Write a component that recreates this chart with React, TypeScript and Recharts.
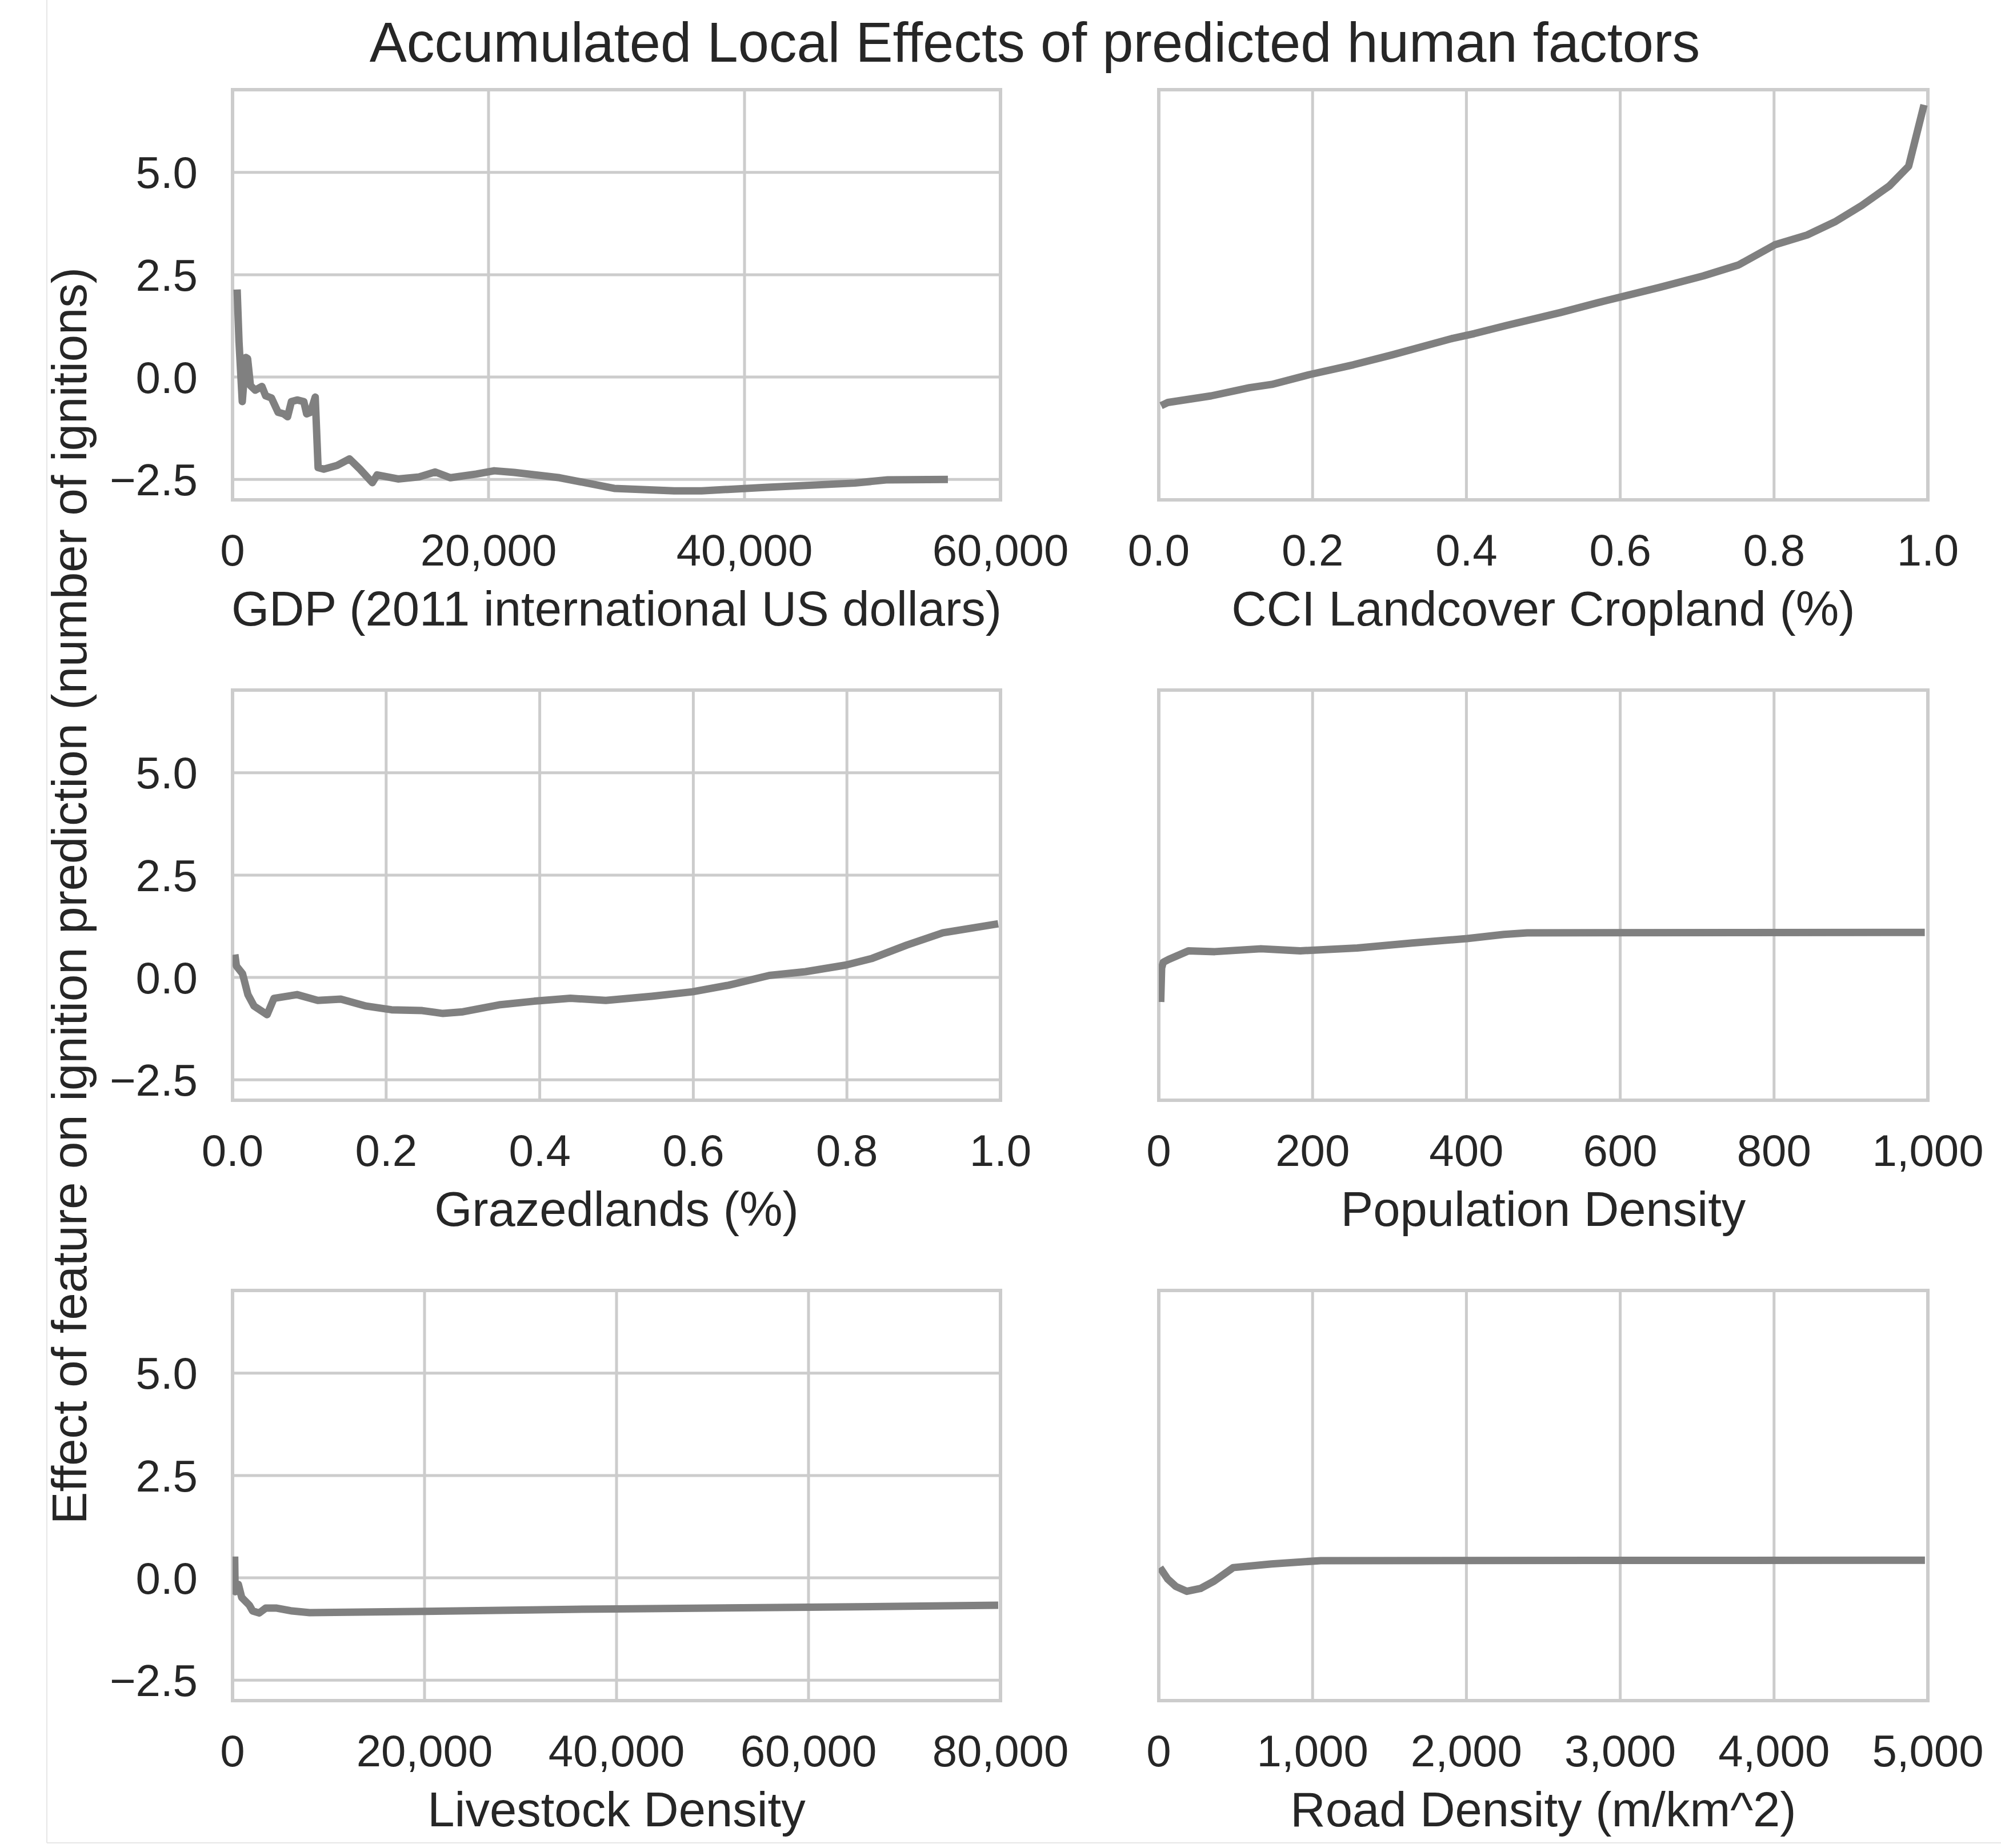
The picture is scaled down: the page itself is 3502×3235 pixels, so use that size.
import React from "react";
import {
  CartesianGrid,
  Line,
  LineChart,
  ReferenceArea,
  XAxis,
  YAxis,
} from "recharts";

// ALE curves (x in feature units, y in ignitions)
const gdpX = [357, 505, 759, 1030, 1175, 1398, 1772, 2291, 2589, 3036, 3557, 4004, 4300, 4598, 5044, 5567, 5790, 6088, 6460, 6683, 7130, 8170, 9138, 9955, 10923, 11294, 12932, 14567, 15833, 17022, 19030, 20445, 22008, 25553, 29820, 34507, 36650, 41360, 48620, 51185, 55890];
const gdpY = [2.14, 0.86, -0.6, 0.48, 0.45, -0.21, -0.32, -0.23, -0.46, -0.51, -0.86, -0.9, -0.97, -0.6, -0.56, -0.6, -0.9, -0.86, -0.49, -2.21, -2.25, -2.16, -2.0, -2.25, -2.58, -2.39, -2.49, -2.44, -2.32, -2.46, -2.37, -2.29, -2.33, -2.46, -2.72, -2.78, -2.78, -2.7, -2.59, -2.51, -2.5];

const cciX = [0.003, 0.012, 0.068, 0.118, 0.147, 0.196, 0.253, 0.303, 0.381, 0.41, 0.452, 0.523, 0.58, 0.651, 0.708, 0.754, 0.801, 0.843, 0.879, 0.914, 0.95, 0.975, 0.995];
const cciY = [-0.7, -0.62, -0.46, -0.26, -0.18, 0.06, 0.3, 0.54, 0.94, 1.06, 1.26, 1.58, 1.86, 2.19, 2.47, 2.74, 3.23, 3.47, 3.79, 4.19, 4.67, 5.15, 6.65];

const grazedX = [0.003, 0.005, 0.013, 0.02, 0.028, 0.045, 0.054, 0.084, 0.111, 0.141, 0.174, 0.207, 0.247, 0.274, 0.3, 0.347, 0.393, 0.44, 0.486, 0.546, 0.599, 0.646, 0.699, 0.746, 0.798, 0.832, 0.878, 0.925, 0.997];
const grazedY = [0.56, 0.28, 0.09, -0.42, -0.7, -0.91, -0.51, -0.42, -0.56, -0.53, -0.7, -0.79, -0.81, -0.88, -0.84, -0.67, -0.58, -0.51, -0.56, -0.46, -0.35, -0.19, 0.05, 0.14, 0.3, 0.46, 0.79, 1.09, 1.31];

const popX = [2.5, 3.7, 5.8, 12.9, 21.5, 38.6, 72.8, 132.8, 184, 258, 329.6, 400.9, 448.7, 479, 996];
const popY = [-0.6, 0.23, 0.37, 0.44, 0.51, 0.65, 0.63, 0.7, 0.65, 0.72, 0.84, 0.95, 1.05, 1.09, 1.1];

const livestockX = [220, 268, 607, 952, 1750, 2089, 2774, 3458, 4601, 6196, 8024, 20000, 35345, 40000, 60000, 79760];
const livestockY = [0.52, -0.34, -0.16, -0.48, -0.67, -0.81, -0.86, -0.74, -0.74, -0.81, -0.85, -0.82, -0.77, -0.76, -0.72, -0.67];

const roadX = [8, 58, 111, 182, 271, 360, 484, 733, 1053, 4981];
const roadY = [0.25, -0.03, -0.21, -0.33, -0.26, -0.08, 0.25, 0.34, 0.42, 0.43];

const yTicks = [-2.5, 0, 2.5, 5];
const gdpTicks = [0, 20000, 40000, 60000];
const fracTicks = [0, 0.2, 0.4, 0.6, 0.8, 1];
const popTicks = [0, 200, 400, 600, 800, 1000];
const livestockTicks = [0, 20000, 40000, 60000, 80000];
const roadTicks = [0, 1000, 2000, 3000, 4000, 5000];

const Y_DOMAIN: [number, number] = [-3, 7.02];
const INK = "#262626";
const GRID = "#cccccc";
const LINE = "#808080";
const FONT = "'Liberation Sans', Arial, Helvetica, sans-serif";

// plot-area geometry in page pixels
const COLS = [
  { left: 407, width: 1344, padLeft: 350 },
  { left: 2028, width: 1346, padLeft: 100 },
];
const ROWS = [157, 1208, 2259];
const PLOT_H = 718;
const PAD_TOP = 20;
const PAD_RIGHT = 120;
const PAD_BOTTOM = 262;

const fmtThousands = (v: number) => v.toLocaleString("en-US");
const fmtFrac = (v: number) => v.toFixed(1);
const fmtY = (v: number) =>
  v < 0 ? "\u2212" + Math.abs(v).toFixed(1) : v.toFixed(1);

function Panel({
  xs,
  ys,
  ticks,
  fmt,
  label,
  row,
  col,
}: {
  xs: number[];
  ys: number[];
  ticks: number[];
  fmt: (v: number) => string;
  label: string;
  row: number;
  col: number;
}) {
  const data = xs.map((x, i) => ({ x, y: ys[i] }));
  const c = COLS[col];
  const domain: [number, number] = [ticks[0], ticks[ticks.length - 1]];
  return (
    <div
      style={{
        position: "absolute",
        left: c.left - c.padLeft,
        top: ROWS[row] - PAD_TOP,
      }}
    >
      <LineChart
        width={c.padLeft + c.width + PAD_RIGHT}
        height={PAD_TOP + PLOT_H + PAD_BOTTOM}
        data={data}
        margin={{ top: PAD_TOP, right: PAD_RIGHT, bottom: 0, left: 0 }}
      >
        <CartesianGrid stroke={GRID} strokeWidth={5} />
        <XAxis
          type="number"
          dataKey="x"
          domain={domain}
          ticks={ticks}
          interval={0}
          allowDataOverflow
          tickFormatter={fmt}
          height={PAD_BOTTOM}
          axisLine={false}
          tickLine={false}
          tickSize={0}
          tickMargin={60}
          tick={{ fontSize: 78, fill: INK }}
          label={{
            value: label,
            position: "insideBottom",
            offset: PAD_BOTTOM - 220,
            fontSize: 85,
            fill: INK,
          }}
        />
        <YAxis
          type="number"
          domain={Y_DOMAIN}
          ticks={yTicks}
          interval={0}
          allowDataOverflow
          tickFormatter={fmtY}
          width={c.padLeft}
          axisLine={false}
          tickLine={false}
          tickSize={0}
          tickMargin={61}
          tick={col === 0 ? { fontSize: 78, fill: INK } : false}
        />
        <ReferenceArea
          x1={domain[0]}
          x2={domain[1]}
          y1={Y_DOMAIN[0]}
          y2={Y_DOMAIN[1]}
          fill="none"
          stroke={GRID}
          strokeWidth={6}
          ifOverflow="visible"
        />
        <Line
          type="linear"
          dataKey="y"
          stroke={LINE}
          strokeWidth={13}
          strokeLinejoin="round"
          dot={false}
          isAnimationActive={false}
        />
      </LineChart>
    </div>
  );
}

export default function App() {
  return (
    <div
      style={{
        position: "absolute",
        left: 0,
        top: 0,
        width: 3502,
        height: 3235,
        overflow: "hidden",
        background: "#ffffff",
        fontFamily: FONT,
      }}
    >
      <svg
        width={3502}
        height={3235}
        style={{ position: "absolute", left: 0, top: 0 }}
      >
        <line x1={82} y1={0} x2={82} y2={3226} stroke="#e6e6e6" strokeWidth={2} />
        <line x1={82} y1={3226} x2={3502} y2={3226} stroke="#e6e6e6" strokeWidth={2} />
        <text x={1811} y={108} textAnchor="middle" fontSize={97.5} fill={INK}>
          Accumulated Local Effects of predicted human factors
        </text>
        <text
          transform="translate(151,1568) rotate(-90)"
          textAnchor="middle"
          fontSize={85}
          fill={INK}
        >
          Effect of feature on ignition prediction (number of ignitions)
        </text>
      </svg>
      <Panel xs={gdpX} ys={gdpY} ticks={gdpTicks} fmt={fmtThousands} label="GDP (2011 international US dollars)" row={0} col={0} />
      <Panel xs={cciX} ys={cciY} ticks={fracTicks} fmt={fmtFrac} label="CCI Landcover Cropland (%)" row={0} col={1} />
      <Panel xs={grazedX} ys={grazedY} ticks={fracTicks} fmt={fmtFrac} label="Grazedlands (%)" row={1} col={0} />
      <Panel xs={popX} ys={popY} ticks={popTicks} fmt={fmtThousands} label="Population Density" row={1} col={1} />
      <Panel xs={livestockX} ys={livestockY} ticks={livestockTicks} fmt={fmtThousands} label="Livestock Density" row={2} col={0} />
      <Panel xs={roadX} ys={roadY} ticks={roadTicks} fmt={fmtThousands} label="Road Density (m/km^2)" row={2} col={1} />
    </div>
  );
}
